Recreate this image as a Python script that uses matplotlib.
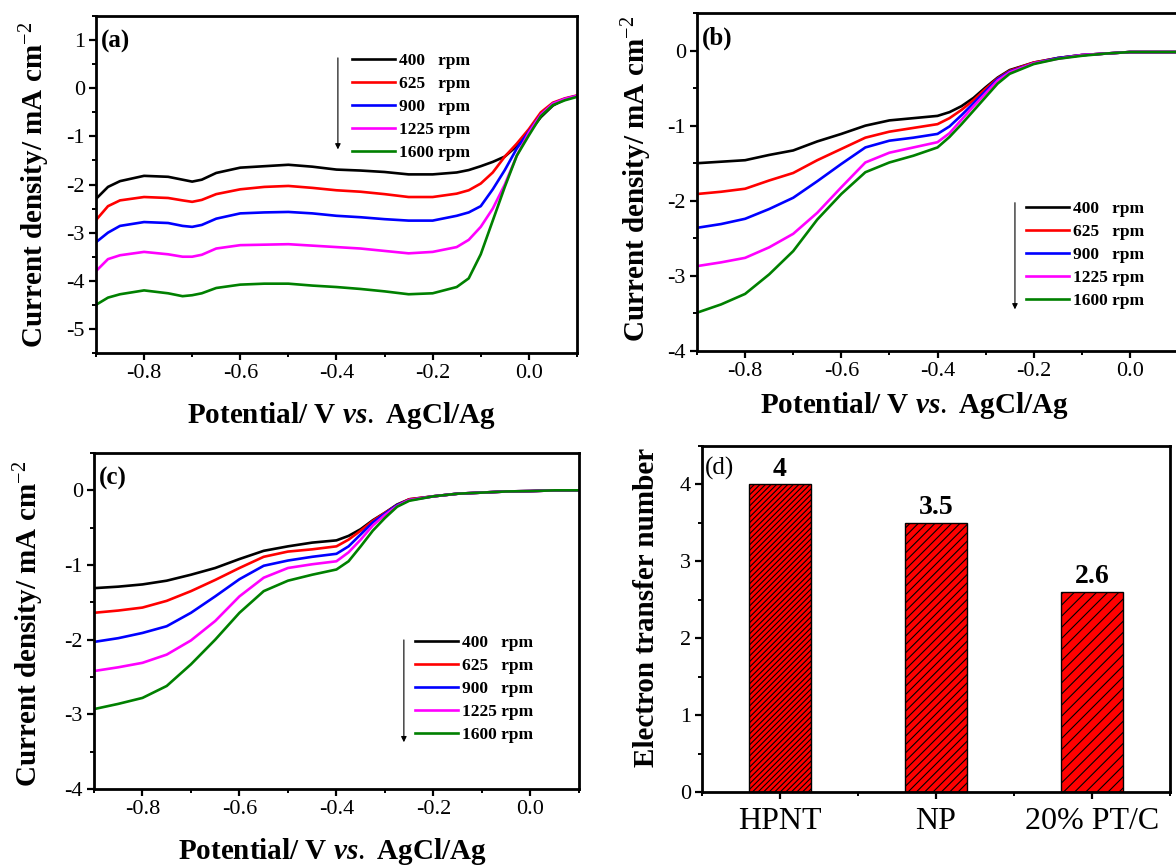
import matplotlib
matplotlib.use('Agg')
import matplotlib.pyplot as plt
from matplotlib.ticker import MultipleLocator, FormatStrFormatter

# Times-like serif for everything
plt.rcParams['font.family'] = ['Liberation Serif', 'DejaVu Serif']
plt.rcParams['axes.unicode_minus'] = False
plt.rcParams['mathtext.fontset'] = 'custom'
plt.rcParams['mathtext.rm'] = 'Liberation Serif'
plt.rcParams['mathtext.it'] = 'Liberation Serif:bold:italic'
plt.rcParams['mathtext.bf'] = 'Liberation Serif:bold'
plt.rcParams['hatch.linewidth'] = 0.8

# ---------------- data ----------------
rpm_labels = ['400   rpm', '625   rpm', '900   rpm', '1225 rpm', '1600 rpm']
line_colors = ['black', '#ff0000', '#0000ff', '#ff00ff', '#008000']

# (a)
xa = [-0.9, -0.875, -0.85, -0.8, -0.75, -0.72, -0.7, -0.68, -0.65, -0.6, -0.55, -0.5, -0.45,
      -0.4, -0.35, -0.3, -0.25, -0.2, -0.15, -0.125, -0.1, -0.075, -0.05, -0.025, 0.0,
      0.025, 0.05, 0.075, 0.1]
a_400 = [-2.30, -2.05, -1.93, -1.82, -1.84, -1.90, -1.94, -1.90, -1.76, -1.65, -1.62, -1.59, -1.63,
         -1.69, -1.71, -1.74, -1.79, -1.79, -1.75, -1.70, -1.62, -1.53, -1.42, -1.20, -0.92,
         -0.60, -0.36, -0.23, -0.16]
a_625 = [-2.74, -2.45, -2.33, -2.26, -2.28, -2.33, -2.36, -2.32, -2.20, -2.10, -2.05, -2.03, -2.07,
         -2.12, -2.15, -2.20, -2.26, -2.26, -2.19, -2.12, -1.98, -1.75, -1.42, -1.15, -0.85,
         -0.50, -0.30, -0.21, -0.15]
a_900 = [-3.20, -3.00, -2.86, -2.78, -2.80, -2.86, -2.88, -2.84, -2.71, -2.60, -2.58, -2.57, -2.60,
         -2.65, -2.68, -2.72, -2.75, -2.75, -2.65, -2.58, -2.45, -2.10, -1.70, -1.25, -0.90,
         -0.55, -0.32, -0.22, -0.16]
a_1225 = [-3.80, -3.55, -3.47, -3.40, -3.45, -3.50, -3.50, -3.46, -3.33, -3.26, -3.25, -3.24, -3.27,
          -3.30, -3.33, -3.38, -3.43, -3.40, -3.30, -3.15, -2.88, -2.50, -2.00, -1.40, -0.92,
          -0.55, -0.32, -0.22, -0.16]
a_1600 = [-4.50, -4.35, -4.28, -4.20, -4.26, -4.32, -4.30, -4.26, -4.15, -4.08, -4.06, -4.06, -4.10,
          -4.13, -4.17, -4.22, -4.28, -4.26, -4.13, -3.95, -3.45, -2.75, -2.05, -1.40, -0.98,
          -0.58, -0.35, -0.25, -0.18]

# (b)
xb = [-0.9, -0.85, -0.8, -0.75, -0.7, -0.65, -0.6, -0.55, -0.5, -0.45, -0.4, -0.375, -0.35,
      -0.325, -0.3, -0.275, -0.25, -0.2, -0.15, -0.1, -0.05, 0.0, 0.05, 0.1]
b_400 = [-1.50, -1.48, -1.46, -1.39, -1.33, -1.21, -1.11, -1.00, -0.93, -0.90, -0.87, -0.82, -0.74,
         -0.63, -0.49, -0.36, -0.26, -0.16, -0.10, -0.06, -0.04, -0.02, -0.02, -0.02]
b_625 = [-1.91, -1.88, -1.84, -1.73, -1.63, -1.46, -1.31, -1.16, -1.08, -1.03, -0.98, -0.90, -0.79,
         -0.66, -0.51, -0.37, -0.27, -0.16, -0.10, -0.06, -0.04, -0.02, -0.02, -0.02]
b_900 = [-2.36, -2.31, -2.24, -2.11, -1.96, -1.74, -1.51, -1.29, -1.20, -1.16, -1.11, -1.01, -0.86,
         -0.70, -0.54, -0.38, -0.28, -0.17, -0.10, -0.06, -0.04, -0.02, -0.02, -0.02]
b_1225 = [-2.87, -2.82, -2.76, -2.62, -2.44, -2.16, -1.82, -1.49, -1.36, -1.29, -1.22, -1.10, -0.92,
          -0.74, -0.57, -0.40, -0.29, -0.17, -0.11, -0.06, -0.04, -0.02, -0.02, -0.02]
b_1600 = [-3.49, -3.38, -3.24, -2.98, -2.67, -2.25, -1.91, -1.62, -1.49, -1.40, -1.29, -1.15, -0.98,
          -0.80, -0.62, -0.44, -0.31, -0.18, -0.11, -0.07, -0.04, -0.02, -0.02, -0.02]

# (c)
xc = [-0.9, -0.85, -0.8, -0.75, -0.7, -0.65, -0.6, -0.55, -0.5, -0.45, -0.4, -0.375, -0.35,
      -0.325, -0.3, -0.275, -0.25, -0.2, -0.15, -0.1, -0.05, 0.0, 0.05, 0.1]
c_400 = [-1.31, -1.29, -1.26, -1.21, -1.13, -1.04, -0.92, -0.81, -0.75, -0.70, -0.67, -0.61, -0.52,
         -0.40, -0.30, -0.19, -0.12, -0.08, -0.045, -0.03, -0.015, -0.01, 0.0, 0.0]
c_625 = [-1.64, -1.61, -1.57, -1.48, -1.35, -1.20, -1.04, -0.89, -0.82, -0.79, -0.75, -0.66, -0.54,
         -0.41, -0.30, -0.20, -0.12, -0.08, -0.045, -0.03, -0.015, -0.01, 0.0, 0.0]
c_900 = [-2.03, -1.98, -1.91, -1.82, -1.64, -1.42, -1.19, -1.01, -0.94, -0.89, -0.85, -0.75, -0.59,
         -0.43, -0.31, -0.20, -0.13, -0.08, -0.045, -0.03, -0.015, -0.01, 0.0, 0.0]
c_1225 = [-2.42, -2.37, -2.31, -2.20, -2.01, -1.75, -1.42, -1.17, -1.04, -0.99, -0.95, -0.83, -0.66,
          -0.47, -0.33, -0.21, -0.13, -0.08, -0.045, -0.03, -0.015, -0.01, 0.0, 0.0]
c_1600 = [-2.93, -2.86, -2.78, -2.62, -2.33, -2.00, -1.64, -1.35, -1.21, -1.13, -1.06, -0.95, -0.75,
          -0.54, -0.37, -0.22, -0.14, -0.08, -0.045, -0.03, -0.015, -0.01, 0.0, 0.0]

# (d)
catalysts = ['HPNT', 'NP', '20% PT/C']
n_values = [4, 3.5, 2.6]
n_texts = ['4', '3.5', '2.6']
hatches = ['//////', '////', '///']

fig = plt.figure(figsize=(11.76, 8.66), dpi=100)
ax_a = fig.add_axes([0.0816, 0.5924, 0.409, 0.3891])
ax_b = fig.add_axes([0.5927, 0.5947, 0.409, 0.3903])
ax_c = fig.add_axes([0.0799, 0.0889, 0.4124, 0.3880])
ax_d = fig.add_axes([0.5969, 0.0855, 0.3980, 0.3995])

xlab = 'Potential/ V $vs.$ AgCl/Ag'
ylab = 'Current density/ mA cm$^{-2}$'


def style_axes(ax):
    for s in ax.spines.values():
        s.set_linewidth(2.0)
    ax.tick_params(which='major', direction='out', length=5, width=1.6, labelsize=16, pad=3)
    ax.tick_params(which='minor', direction='out', length=3, width=1.4)
    ax.tick_params(top=False, right=False)


def lsv_panel(ax, x, curves, ylim, yticks, tag, leg_xy, arrow_x, arrow_y, xlab_xy, ylab_xy):
    for ys, col, lab in zip(curves, line_colors, rpm_labels):
        ax.plot(x, ys, color=col, lw=1.9, label=lab)
    ax.set_xlim(-0.9, 0.1)
    ax.set_ylim(*ylim)
    ax.set_xticks([-0.8, -0.6, -0.4, -0.2, 0.0])
    ax.xaxis.set_major_formatter(FormatStrFormatter('%.1f'))
    ax.xaxis.set_minor_locator(MultipleLocator(0.1))
    ax.set_yticks(yticks)
    ax.yaxis.set_minor_locator(MultipleLocator(0.5))
    style_axes(ax)
    ax.set_xlabel(xlab, fontsize=21, fontweight='bold')
    ax.set_ylabel(ylab, fontsize=21, fontweight='bold')
    ax.xaxis.set_label_coords(*xlab_xy)
    ax.xaxis.label.set_verticalalignment('center')
    ax.yaxis.set_label_coords(*ylab_xy)
    ax.yaxis.label.set_verticalalignment('center')
    ax.text(0.01, 0.925, tag, transform=ax.transAxes, fontsize=18, fontweight='bold',
            ha='left', va='center')
    ax.legend(loc='upper left', bbox_to_anchor=leg_xy, frameon=False, handlelength=2.5,
              handletextpad=0.2, labelspacing=0.4, borderpad=0, borderaxespad=0,
              prop={'family': 'Liberation Serif', 'weight': 'bold', 'size': 12.5})
    ax.annotate('', xy=(arrow_x, arrow_y[1]), xytext=(arrow_x, arrow_y[0]),
                xycoords='axes fraction',
                arrowprops=dict(arrowstyle='-|>', lw=0.8, color='black', mutation_scale=8))


lsv_panel(ax_a, xa, [a_400, a_625, a_900, a_1225, a_1600], (-5.5, 1.5), [-5, -4, -3, -2, -1, 0, 1],
          '(a)', (0.532, 0.891), 0.503, (0.884, 0.596), (0.511, -0.187), (-0.127, 0.5))
lsv_panel(ax_b, xb, [b_400, b_625, b_900, b_1225, b_1600], (-4, 0.5), [-4, -3, -2, -1, 0],
          '(b)', (0.684, 0.445), 0.661, (0.447, 0.115), (0.451, -0.16), (-0.125, 0.51))
lsv_panel(ax_c, xc, [c_400, c_625, c_900, c_1225, c_1600], (-4, 0.5), [-4, -3, -2, -1, 0],
          '(c)', (0.662, 0.459), 0.639, (0.452, 0.131), (0.492, -0.187), (-0.134, 0.49))

# (d) electron transfer number bars
pos = range(len(catalysts))
bars = ax_d.bar(pos, n_values, width=0.4, color='#ff0000', edgecolor='black', linewidth=1.0)
for b, h in zip(bars, hatches):
    b.set_hatch(h)
for p, v, t in zip(pos, n_values, n_texts):
    ax_d.annotate(t, xy=(p, v), xytext=(0, 2), textcoords='offset points', ha='center',
                  va='bottom', fontsize=20, fontweight='bold')
ax_d.set_xlim(-0.5, 2.5)
ax_d.set_ylim(0, 4.5)
ax_d.set_xticks(list(pos))
ax_d.set_xticklabels(catalysts)
ax_d.xaxis.set_minor_locator(MultipleLocator(0.5))
ax_d.set_yticks([0, 1, 2, 3, 4])
ax_d.yaxis.set_minor_locator(MultipleLocator(0.5))
style_axes(ax_d)
ax_d.tick_params(axis='x', which='major', labelsize=23, pad=6)
ax_d.set_ylabel('Electron transfer number', fontsize=21, fontweight='bold')
ax_d.yaxis.set_label_coords(-0.118, 0.533)
ax_d.yaxis.label.set_verticalalignment('center')
ax_d.text(0.007, 0.934, '(d)', transform=ax_d.transAxes, fontsize=18, ha='left', va='center')

fig.savefig('out.png', dpi=100)
